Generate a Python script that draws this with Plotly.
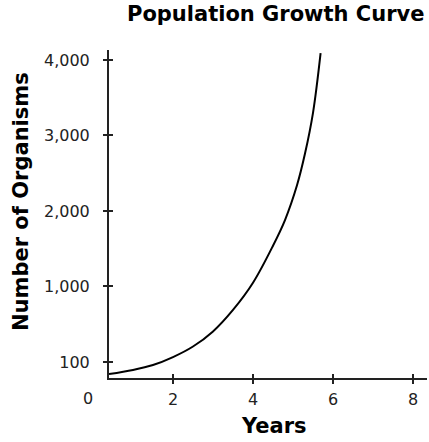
import plotly.graph_objects as go

# Curve (years, position on the organism scale)
years = [0.4, 1.0, 1.5, 2.0, 2.5, 3.0, 3.5, 4.0, 4.5, 4.8, 5.1, 5.3, 5.5, 5.69]
organisms = [-160, -105, -40, 65, 205, 405, 690, 1050, 1540, 1880, 2340, 2760, 3300, 4090]

x_tick_vals = [2, 4, 6, 8]
x_tick_text = ["2", "4", "6", "8"]
origin_label = "0"
y_tick_vals = [0, 1000, 2000, 3000, 4000]
y_tick_text = ["100", "1,000", "2,000", "3,000", "4,000"]

TXT = "#222222"
FONT = "DejaVu Sans"

fig = go.Figure()
fig.add_trace(go.Scatter(x=years, y=organisms, mode="lines",
                         line=dict(color="black", width=2, shape="spline", smoothing=1.0),
                         hoverinfo="skip", showlegend=False))
# invisible trace to anchor the overlay axes (used to draw crossing ticks)
fig.add_trace(go.Scatter(x=[years[0]], y=[organisms[0]], xaxis="x2", yaxis="y2",
                         mode="markers", marker=dict(opacity=0), showlegend=False,
                         hoverinfo="skip"))

xr = [0.4, 8.35]
yr = [-212, 4132]

fig.update_layout(
    width=429, height=442,
    margin=dict(l=109, r=2, t=50, b=64),
    paper_bgcolor="white", plot_bgcolor="white",
    font=dict(family=FONT, color=TXT, size=16),
    xaxis=dict(range=xr, tickvals=x_tick_vals, ticktext=x_tick_text,
               showgrid=False, zeroline=False, showline=True, linecolor=TXT,
               linewidth=2, ticks="outside", ticklen=4, tickwidth=1.5,
               tickcolor=TXT, ticklabelstandoff=2,
               tickfont=dict(size=16, color=TXT, family=FONT)),
    yaxis=dict(range=yr, tickvals=y_tick_vals, ticktext=y_tick_text,
               showgrid=False, zeroline=False, showline=True, linecolor=TXT,
               linewidth=2, ticks="outside", ticklen=4, tickwidth=1.5,
               tickcolor=TXT, ticklabelstandoff=10,
               tickfont=dict(size=16, color=TXT, family=FONT)),
    xaxis2=dict(range=xr, overlaying="x", tickvals=x_tick_vals,
                showticklabels=False, showgrid=False, zeroline=False,
                ticks="inside", ticklen=4, tickwidth=1.5, tickcolor=TXT,
                side="bottom", anchor="y2"),
    yaxis2=dict(range=yr, overlaying="y", tickvals=y_tick_vals,
                showticklabels=False, showgrid=False, zeroline=False,
                ticks="inside", ticklen=4, tickwidth=1.5, tickcolor=TXT,
                side="left", anchor="x2"),
    annotations=[
        dict(text="<b>Population Growth Curve</b>", xref="paper", yref="paper",
             x=(275 - 109) / 318, y=(378 - 14) / 328, showarrow=False,
             xanchor="center", yanchor="middle",
             font=dict(size=21, color="black", family=FONT)),
        dict(text="<b>Years</b>", xref="paper", yref="paper",
             x=(274 - 109) / 318, y=(378 - 426) / 328, showarrow=False,
             xanchor="center", yanchor="middle",
             font=dict(size=21, color="black", family=FONT)),
        dict(text="<b>Number of Organisms</b>", xref="paper", yref="paper",
             x=(21 - 109) / 318, y=(378 - 202) / 328, showarrow=False,
             textangle=-90, xanchor="center", yanchor="middle",
             font=dict(size=21, color="black", family=FONT)),
        dict(text=origin_label, xref="paper", yref="paper",
             x=(88 - 109) / 318, y=(378 - 398) / 328, showarrow=False,
             xanchor="center", yanchor="middle",
             font=dict(size=16, color=TXT, family=FONT)),
    ],
)

fig.write_html("out.html", config={"displayModeBar": False},
               post_script="document.body.style.margin='0';document.body.style.padding='0';")
